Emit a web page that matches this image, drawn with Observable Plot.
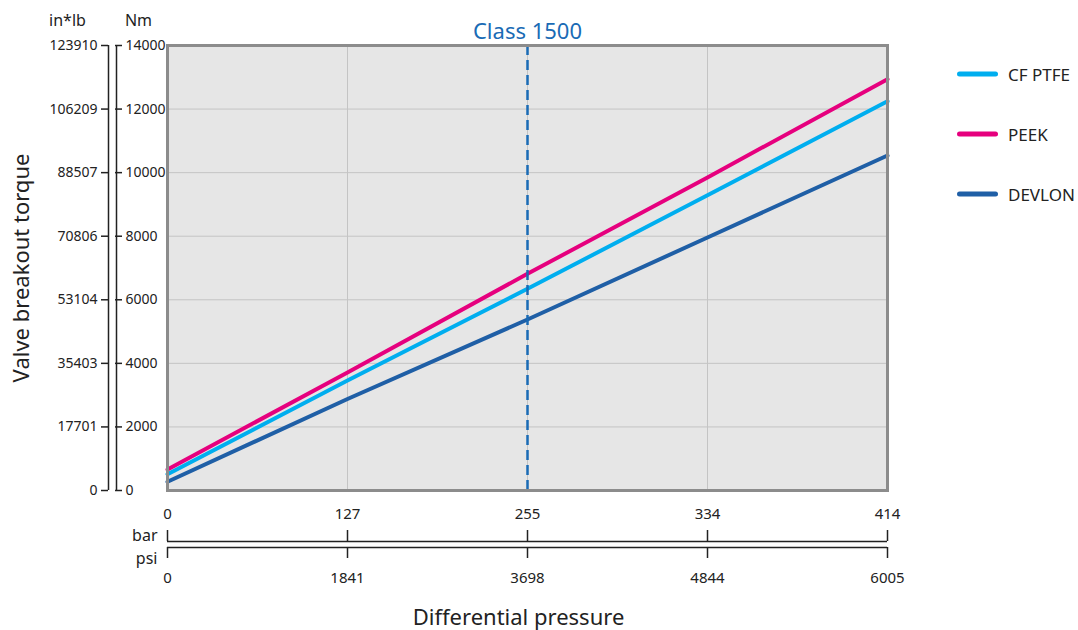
<!DOCTYPE html>
<html>
<head>
<meta charset="utf-8">
<script src="https://cdn.jsdelivr.net/npm/d3@7"></script>
<script src="https://cdn.jsdelivr.net/npm/@observablehq/plot@0.6"></script>
<style>
  html, body { margin: 0; padding: 0; background: #fff; }
  #wrap { position: relative; width: 1078px; height: 630px; font-family: "Noto Sans", sans-serif; color: #222; }
  #wrap svg { display: block; }
  #legend { position: absolute; left: 957px; top: 0; }
  .item { position: absolute; left: 0; display: flex; align-items: center; white-space: nowrap; font-size: 17px; transform: translateY(-50%); }
  .sw { width: 41px; height: 5px; border-radius: 3px; margin-right: 10px; }
</style>
</head>
<body>
<div id="wrap"></div>
<script>
// ---- data ----
const barTicks = ["0", "127", "255", "334", "414"];
const psiTicks = ["0", "1841", "3698", "4844", "6005"];
const nmTicks = [0, 2000, 4000, 6000, 8000, 10000, 12000, 14000];
const inlbTicks = ["0", "17701", "35403", "53104", "70806", "88507", "106209", "123910"];
const seriesNames = ["CF PTFE", "PEEK", "DEVLON"];
const seriesColors = ["#00aeef", "#e6007e", "#1f5fa6"];
const cfPtfe = [513, 3460, 6345, 9290, 12248];
const peek = [660, 3715, 6817, 9850, 12940];
const devlon = [274, 2880, 5380, 7960, 10540];
const classAt = "255";
const classLabel = "Class 1500";

const seriesValues = [cfPtfe, peek, devlon];
const data = [];
seriesNames.forEach((s, k) => seriesValues[k].forEach((v, i) => data.push({series: s, bar: barTicks[i], nm: v})));

const first = barTicks[0], last = barTicks[barTicks.length - 1];
const ink = "#222";
const mid = {lineAnchor: "middle"};

const chart = Plot.plot({
  width: 1078, height: 630,
  marginLeft: 167, marginRight: 191, marginTop: 45, marginBottom: 140,
  style: {fontFamily: "Noto Sans, sans-serif", fontSize: "14px", color: ink, background: "white", overflow: "visible"},
  x: {type: "point", domain: barTicks, padding: 0, axis: null},
  y: {domain: [0, 14000], axis: null},
  color: {domain: seriesNames, range: seriesColors},
  marks: [
    Plot.frame({fill: "#e6e6e6"}),
    Plot.gridY(nmTicks, {stroke: "#c4c4c4", strokeOpacity: 1, strokeWidth: 1}),
    Plot.gridX(barTicks, {stroke: "#c4c4c4", strokeOpacity: 1, strokeWidth: 1}),
    Plot.line(data, {x: "bar", y: "nm", z: "series", stroke: "series", strokeWidth: 4}),
    Plot.ruleX([classAt], {stroke: "#1a6bb5", strokeWidth: 2.5, strokeDasharray: "10,5"}),
    Plot.frame({stroke: "#8c8c8c", strokeWidth: 3}),
    Plot.text([classLabel], {x: () => classAt, text: d => d, frameAnchor: "top", dy: -14, ...mid, textAnchor: "middle", fill: "#1a6bb5", fontSize: 22}),

    // Nm axis
    Plot.ruleX([first], {y1: () => 0, y2: () => 14000, dx: -51, stroke: ink, strokeWidth: 1.5}),
    Plot.axisY(nmTicks, {anchor: "left", tickSize: 7, dx: -45, tickFormat: () => "", label: null, stroke: ink, strokeWidth: 1.5}),
    Plot.text(nmTicks, {y: d => d, text: d => String(d), frameAnchor: "left", dx: -42, textAnchor: "start", ...mid, fill: ink, fontSize: 14}),
    // in*lb axis
    Plot.ruleX([first], {y1: () => 0, y2: () => 14000, dx: -59, stroke: ink, strokeWidth: 1.5}),
    Plot.axisY(nmTicks, {anchor: "left", tickSize: 7, dx: -59, tickFormat: () => "", label: null, stroke: ink, strokeWidth: 1.5}),
    Plot.text(nmTicks, {y: d => d, text: (d, i) => inlbTicks[i], frameAnchor: "left", dx: -70, textAnchor: "end", ...mid, fill: ink, fontSize: 14}),
    Plot.text(["in*lb"], {text: d => d, frameAnchor: "top-left", dx: -100, dy: -25, textAnchor: "middle", ...mid, fill: ink, fontSize: 16}),
    Plot.text(["Nm"], {text: d => d, frameAnchor: "top-left", dx: -29, dy: -25, textAnchor: "middle", ...mid, fill: ink, fontSize: 16}),
    Plot.text(["Valve breakout torque"], {text: d => d, frameAnchor: "left", dx: -146, rotate: -90, textAnchor: "middle", ...mid, fill: ink, fontSize: 22}),

    // bar axis
    Plot.text(barTicks, {x: d => d, text: d => d, frameAnchor: "bottom", dy: 24, textAnchor: "middle", ...mid, fill: ink, fontSize: 15}),
    Plot.axisX(barTicks, {anchor: "bottom", tickSize: 11, dy: 40, tickFormat: () => "", label: null, stroke: ink, strokeWidth: 1.5}),
    Plot.ruleY([0], {x1: () => first, x2: () => last, dy: 51, stroke: ink, strokeWidth: 1.5}),
    Plot.text(["bar"], {x: () => first, text: d => d, frameAnchor: "bottom", dy: 45, dx: -10, textAnchor: "end", ...mid, fill: ink, fontSize: 16}),
    // psi axis
    Plot.ruleY([0], {x1: () => first, x2: () => last, dy: 57, stroke: ink, strokeWidth: 1.5}),
    Plot.axisX(barTicks, {anchor: "bottom", tickSize: 11, dy: 57, tickFormat: () => "", label: null, stroke: ink, strokeWidth: 1.5}),
    Plot.text(psiTicks, {x: (d, i) => barTicks[i], text: d => d, frameAnchor: "bottom", dy: 88, textAnchor: "middle", ...mid, fill: ink, fontSize: 15}),
    Plot.text(["psi"], {x: () => first, text: d => d, frameAnchor: "bottom", dy: 68, dx: -10, textAnchor: "end", ...mid, fill: ink, fontSize: 16}),
    Plot.text(["Differential pressure"], {text: d => d, frameAnchor: "bottom", dx: -9, dy: 127, textAnchor: "middle", ...mid, fill: ink, fontSize: 22})
  ]
});

const wrap = document.getElementById("wrap");
wrap.appendChild(chart);

// legend
const legend = document.createElement("div");
legend.id = "legend";
const legendTops = [74, 134, 194];
seriesNames.forEach((s, k) => {
  const it = document.createElement("div");
  it.className = "item";
  it.style.top = legendTops[k] + "px";
  const sw = document.createElement("span");
  sw.className = "sw";
  sw.style.background = seriesColors[k];
  const lab = document.createElement("span");
  lab.textContent = s;
  it.appendChild(sw); it.appendChild(lab);
  legend.appendChild(it);
});
wrap.appendChild(legend);
</script>
</body>
</html>
